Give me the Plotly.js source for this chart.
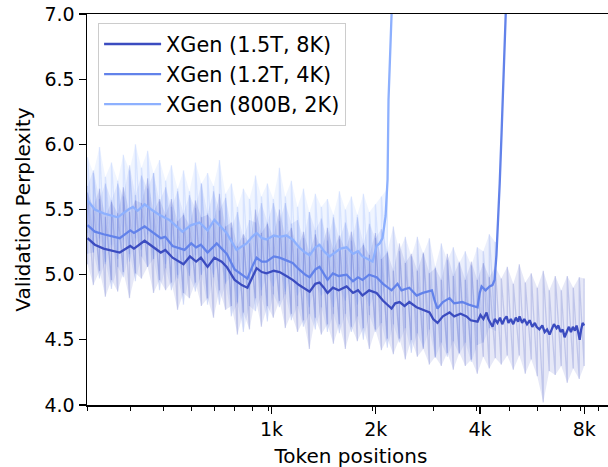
<!DOCTYPE html>
<html>
<head>
<meta charset="utf-8">
<script src="https://cdn.plot.ly/plotly-3.0.1.min.js"></script>
<style>
  html, body { margin: 0; padding: 0; overflow: hidden; background: #fff; }
  #chart { width: 620px; height: 480px; }
</style>
</head>
<body>
<div id="chart"></div>
<script>
// ---- series names & colours ----
const seriesNames = ["XGen (1.5T, 8K)", "XGen (1.2T, 4K)", "XGen (800B, 2K)"];
const seriesColors = ["#3b4cc0", "#6282ea", "#8db0fe"];
const bandColors = ["rgba(59,76,192,0.13)", "rgba(98,130,234,0.13)", "rgba(141,176,254,0.13)"];
const spikeColors = ["rgba(59,76,192,0.22)", "rgba(98,130,234,0.22)", "rgba(141,176,254,0.25)"];

// ---- x ticks ----
const tickPositions = [1024, 2048, 4096, 8192];
const tickLabels = ["1k", "2k", "4k", "8k"];
const minorTickPositions = [300, 400, 500, 600, 700, 800, 900, 1000, 2000, 3000, 4000, 5000, 6000, 7000, 8000, 9000];
const yTicks = [4.0, 4.5, 5.0, 5.5, 6.0, 6.5, 7.0];

// ---- token positions of the raw (noisy) envelope samples ----
const rawPos = [301, 313, 326, 339, 353, 368, 382, 398, 414, 431,
  449, 467, 486, 506, 526, 548, 570, 593, 617, 642,
  669, 696, 724, 754, 784, 816, 849, 884, 920, 957,
  996, 1036, 1079, 1122, 1168, 1217, 1266, 1317, 1370, 1426,
  1485, 1545, 1608, 1673, 1741, 1812, 1886, 1963, 2043, 2126,
  2212, 2302, 2396, 2493, 2595, 2700, 2810, 2925, 3043, 3167,
  3296, 3430, 3570, 3715, 3867, 4023, 4187, 4358, 4535, 4720,
  4912, 5112, 5320, 5536, 5761, 5996, 6239, 6493, 6757, 7033,
  7319, 7617, 7927, 8192];

// ---- raw perplexity envelope (upper / lower spikes) ----
const raw8kUpper = [5.63, 5.52, 5.66, 5.44, 5.56, 5.47, 5.67, 5.48, 5.57, 5.55,
  5.74, 5.48, 5.58, 5.46, 5.58, 5.41, 5.46, 5.38, 5.57, 5.44,
  5.46, 5.40, 5.62, 5.37, 5.40, 5.22, 5.31, 5.24, 5.50, 5.32,
  5.39, 5.29, 5.50, 5.29, 5.36, 5.20, 5.33, 5.17, 5.31, 5.19,
  5.36, 5.19, 5.30, 5.19, 5.33, 5.17, 5.23, 5.15, 5.32, 5.12,
  5.17, 5.03, 5.24, 5.09, 5.16, 5.03, 5.17, 5.01, 5.05, 4.96,
  5.16, 4.99, 5.10, 4.96, 5.10, 4.96, 5.09, 4.98, 5.06, 4.97,
  5.06, 4.93, 5.08, 4.94, 5.01, 4.90, 5.03, 4.88, 4.99, 4.88,
  4.99, 4.90, 4.98, 4.97];
const raw8kLower = [5.08, 4.92, 5.03, 4.83, 4.96, 4.87, 5.02, 4.82, 5.01, 4.97,
  5.06, 4.86, 4.96, 4.88, 4.94, 4.73, 4.86, 4.82, 4.94, 4.76,
  4.82, 4.67, 4.88, 4.73, 4.76, 4.54, 4.71, 4.58, 4.82, 4.60,
  4.76, 4.67, 4.80, 4.59, 4.70, 4.56, 4.65, 4.43, 4.67, 4.54,
  4.62, 4.47, 4.62, 4.43, 4.60, 4.49, 4.59, 4.43, 4.58, 4.42,
  4.51, 4.39, 4.51, 4.35, 4.50, 4.37, 4.43, 4.31, 4.37, 4.30,
  4.40, 4.27, 4.40, 4.30, 4.35, 4.24, 4.37, 4.28, 4.36, 4.31,
  4.38, 4.27, 4.38, 4.24, 4.35, 4.22, 4.02, 4.26, 4.23, 4.30,
  4.17, 4.28, 4.20, 4.30];
const raw4kUpper = [5.68, 5.80, 5.58, 5.70, 5.57, 5.70, 5.60, 5.84, 5.61, 5.76,
  5.66, 5.78, 5.56, 5.67, 5.52, 5.64, 5.47, 5.61, 5.51, 5.70,
  5.47, 5.64, 5.49, 5.59, 5.36, 5.48, 5.28, 5.42, 5.40, 5.55,
  5.40, 5.55, 5.41, 5.55, 5.39, 5.42, 5.28, 5.48, 5.34, 5.43,
  5.26, 5.44, 5.27, 5.40, 5.26, 5.44, 5.24, 5.39, 5.28, 5.35,
  5.18, 5.37, 5.18, 5.29, 5.14, 5.29, 5.16, 5.28, 5.06, 5.24,
  5.11, 5.21, 5.09, 5.18, 5.07, 5.21, 5.18, 5.31, 5.25];
const raw4kLower = [5.16, 5.17, 4.97, 5.10, 4.89, 5.06, 4.98, 5.16, 4.95, 5.14,
  5.06, 5.12, 4.88, 5.05, 4.88, 5.00, 4.77, 4.99, 4.87, 5.00,
  4.77, 4.98, 4.77, 4.93, 4.68, 4.78, 4.56, 4.76, 4.72, 4.84,
  4.64, 4.85, 4.75, 4.85, 4.65, 4.76, 4.60, 4.70, 4.58, 4.75,
  4.56, 4.70, 4.55, 4.70, 4.56, 4.68, 4.50, 4.69, 4.56, 4.63,
  4.44, 4.62, 4.48, 4.59, 4.40, 4.55, 4.44, 4.58, 4.36, 4.48,
  4.37, 4.49, 4.39, 4.48, 4.33, 4.46, 4.48, 4.59, 4.57];
const raw2kUpper = [5.90, 5.78, 5.98, 5.75, 5.86, 5.72, 5.92, 5.80, 6.00, 5.82,
  5.95, 5.78, 5.88, 5.72, 5.84, 5.66, 5.80, 5.64, 5.86, 5.70,
  5.78, 5.68, 5.88, 5.62, 5.70, 5.52, 5.66, 5.58, 5.76, 5.60,
  5.70, 5.58, 5.82, 5.60, 5.72, 5.52, 5.66, 5.48, 5.62, 5.52,
  5.58, 5.46, 5.64, 5.50, 5.60, 5.46, 5.62, 5.48, 5.54, 5.60,
  5.66];
const raw2kLower = [5.32, 5.17, 5.28, 5.08, 5.23, 5.12, 5.27, 5.10, 5.28, 5.19,
  5.31, 5.12, 5.22, 5.08, 5.20, 4.97, 5.09, 5.00, 5.15, 5.00,
  5.08, 5.00, 5.12, 4.94, 4.98, 4.79, 4.96, 4.88, 5.06, 4.88,
  4.99, 4.91, 5.03, 4.87, 4.99, 4.84, 4.92, 4.75, 4.92, 4.84,
  4.88, 4.75, 4.90, 4.80, 4.93, 4.77, 4.88, 4.76, 4.85, 4.82,
  4.94];

// ---- smoothed perplexity curves ----
const smooth8kPos = [301, 316, 335, 373, 400, 410, 440, 460, 490, 505, 530, 570, 595, 620, 640, 669, 700, 735, 760, 801,
  840, 872, 900, 927, 960, 990, 1040, 1080, 1130, 1178, 1230, 1280, 1319, 1370, 1409, 1450, 1486, 1540, 1600, 1687,
  1760, 1820, 1875, 1960, 2059, 2150, 2275, 2330, 2400, 2480, 2560, 2687, 2800, 2929, 3000, 3088, 3200, 3345, 3450, 3600,
  3746, 3850, 4030, 4110, 4190, 4279, 4330, 4400, 4453, 4520, 4600, 4680, 4750, 4820, 4889, 4950, 5030, 5110, 5200, 5280,
  5330, 5420, 5500, 5600, 5700, 5800, 5900, 5968, 6080, 6200, 6300, 6400, 6508, 6600, 6700, 6818, 6900, 7000, 7100, 7191,
  7300, 7400, 7500, 7600, 7700, 7788, 7870, 7950, 8030, 8106, 8192];
const smooth8k = [5.28, 5.23, 5.20, 5.17, 5.22, 5.20, 5.26, 5.22, 5.17, 5.19, 5.13, 5.08, 5.14, 5.10, 5.13, 5.06, 5.13, 5.10, 5.06, 4.96,
  4.92, 4.90, 4.98, 5.05, 5.02, 5.01, 5.03, 5.02, 4.99, 4.96, 4.92, 4.89, 4.87, 4.93, 4.94, 4.90, 4.86, 4.90, 4.88, 4.91,
  4.86, 4.88, 4.84, 4.88, 4.86, 4.80, 4.74, 4.78, 4.79, 4.76, 4.79, 4.75, 4.73, 4.71, 4.66, 4.63, 4.68, 4.71, 4.68, 4.70,
  4.68, 4.65, 4.64, 4.69, 4.66, 4.71, 4.66, 4.62, 4.60, 4.66, 4.63, 4.67, 4.62, 4.66, 4.68, 4.63, 4.66, 4.62, 4.67, 4.64,
  4.68, 4.63, 4.66, 4.62, 4.65, 4.60, 4.63, 4.60, 4.58, 4.61, 4.56, 4.58, 4.54, 4.58, 4.62, 4.59, 4.61, 4.56, 4.58, 4.52,
  4.57, 4.60, 4.56, 4.60, 4.57, 4.61, 4.56, 4.50, 4.58, 4.63, 4.61];
const smooth4kPos = [301, 316, 335, 373, 400, 410, 440, 460, 490, 505, 530, 574, 600, 620, 640, 669, 711, 735, 760, 801,
  840, 872, 900, 927, 960, 990, 1040, 1080, 1130, 1178, 1230, 1280, 1319, 1370, 1409, 1450, 1486, 1540, 1600, 1687,
  1760, 1820, 1875, 1960, 2059, 2150, 2275, 2367, 2430, 2560, 2687, 2800, 2975, 3030, 3088, 3200, 3345, 3450, 3640, 3800,
  4030, 4090, 4140, 4250, 4366, 4450, 4514, 4570, 4605, 4670, 4729, 4800, 4858, 4950];
const smooth4k = [5.38, 5.33, 5.31, 5.28, 5.34, 5.32, 5.37, 5.33, 5.28, 5.29, 5.22, 5.19, 5.24, 5.21, 5.23, 5.17, 5.24, 5.20, 5.16, 5.04,
  5.00, 4.97, 5.06, 5.13, 5.10, 5.10, 5.14, 5.13, 5.11, 5.09, 5.04, 5.00, 4.98, 5.04, 5.06, 5.01, 4.96, 5.01, 4.99, 5.00,
  4.95, 4.98, 4.96, 5.00, 4.98, 4.93, 4.88, 4.93, 4.88, 4.90, 4.84, 4.86, 4.88, 4.80, 4.74, 4.79, 4.82, 4.78, 4.79, 4.77,
  4.75, 4.86, 4.91, 4.88, 4.91, 4.92, 4.96, 5.15, 5.32, 5.70, 6.09, 6.55, 7.00, 7.60];
const smooth2kPos = [301, 316, 335, 368, 395, 407, 420, 440, 460, 485, 519, 545, 566, 600, 634, 669, 700, 730, 759, 811,
  840, 867, 900, 927, 960, 990, 1040, 1080, 1130, 1178, 1230, 1280, 1319, 1370, 1409, 1450, 1506, 1560, 1620, 1687,
  1760, 1820, 1875, 1940, 2005, 2059, 2101, 2142, 2186, 2215, 2229, 2275, 2306];
const smooth2k = [5.57, 5.50, 5.47, 5.44, 5.50, 5.52, 5.49, 5.54, 5.50, 5.46, 5.42, 5.37, 5.33, 5.38, 5.40, 5.34, 5.42, 5.37, 5.32, 5.19,
  5.22, 5.24, 5.29, 5.32, 5.28, 5.27, 5.30, 5.29, 5.30, 5.27, 5.21, 5.17, 5.15, 5.21, 5.23, 5.18, 5.14, 5.17, 5.20, 5.21,
  5.16, 5.18, 5.14, 5.12, 5.10, 5.22, 5.24, 5.28, 5.45, 5.73, 6.34, 7.00, 7.40];

// ---- build traces ----
const bands = [
  { upper: raw2kUpper, lower: raw2kLower, k: 2 },
  { upper: raw4kUpper, lower: raw4kLower, k: 1 },
  { upper: raw8kUpper, lower: raw8kLower, k: 0 }
];
const traces = [];
bands.forEach(b => {
  const xs = rawPos.slice(0, b.upper.length);
  traces.push({ x: xs, y: b.lower, type: "scatter", mode: "lines", line: { width: 0, color: bandColors[b.k] },
    showlegend: false, hoverinfo: "skip" });
  traces.push({ x: xs, y: b.upper, type: "scatter", mode: "lines", line: { width: 0, color: bandColors[b.k] },
    fill: "tonexty", fillcolor: bandColors[b.k], showlegend: false, hoverinfo: "skip" });
  // raw noisy line: runs from each low sample to its high sample, then on to the next low
  const sx = [], sy = [];
  xs.forEach((x, i) => { sx.push(x, x); sy.push(b.lower[i], b.upper[i]); });
  traces.push({ x: sx, y: sy, type: "scatter", mode: "lines", line: { width: 1.3, color: spikeColors[b.k] },
    showlegend: false, hoverinfo: "skip" });
});
const lines = [
  { x: smooth8kPos, y: smooth8k },
  { x: smooth4kPos, y: smooth4k },
  { x: smooth2kPos, y: smooth2k }
];
lines.forEach((l, k) => {
  traces.push({ x: l.x, y: l.y, type: "scatter", mode: "lines", name: seriesNames[k],
    line: { color: seriesColors[k], width: 2.3 } });
});

const font = { family: "DejaVu Sans, Verdana, sans-serif", color: "#000" };
const layout = {
  width: 620, height: 480,
  margin: { l: 87, r: 5, t: 14, b: 75 },
  paper_bgcolor: "#fff", plot_bgcolor: "#fff",
  font: Object.assign({ size: 19 }, font),
  showlegend: true,
  legend: {
    x: 0.021, y: 0.977, xanchor: "left", yanchor: "top", traceorder: "normal",
    bgcolor: "rgba(255,255,255,0.8)", bordercolor: "#cccccc", borderwidth: 1,
    font: Object.assign({ size: 20.8 }, font), itemwidth: 57, tracegroupgap: 0
  },
  xaxis: {
    type: "log", range: [Math.log10(300), 4.0024],
    tickmode: "array", tickvals: tickPositions, ticktext: tickLabels,
    ticks: "outside", ticklen: 7, tickwidth: 1.2, tickcolor: "#000",
    minor: { tickmode: "array", tickvals: minorTickPositions, ticks: "outside", ticklen: 4, tickwidth: 1, tickcolor: "#000" },
    showline: true, linecolor: "#000", linewidth: 1.5, mirror: true,
    showgrid: false, zeroline: false,
    tickfont: Object.assign({ size: 19 }, font),
    title: { text: "Token positions", font: Object.assign({ size: 20 }, font), standoff: 9 }
  },
  yaxis: {
    range: [4, 7], tickmode: "array", tickvals: yTicks, ticktext: yTicks.map(v => v.toFixed(1)),
    ticks: "outside", ticklen: 7, tickwidth: 1.2, tickcolor: "#000",
    showline: true, linecolor: "#000", linewidth: 1.5, mirror: true,
    showgrid: false, zeroline: false,
    tickfont: Object.assign({ size: 19 }, font),
    title: { text: "Validation Perplexity", font: Object.assign({ size: 20 }, font), standoff: 8 }
  }
};
Plotly.newPlot("chart", traces, layout, { displayModeBar: false, staticPlot: true });
</script>
</body>
</html>
